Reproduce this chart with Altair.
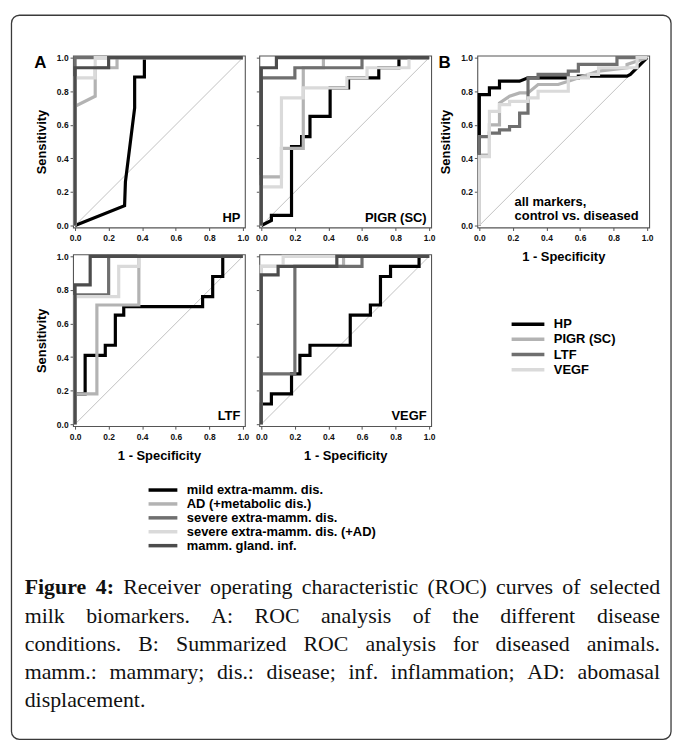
import altair as alt
import pandas as pd

# ---------------- data ----------------
DISEASES = ["mild extra-mamm. dis.", "AD (+metabolic dis.)", "severe extra-mamm. dis.",
            "severe extra-mamm. dis. (+AD)", "mamm. gland. inf."]
DISEASE_COLORS = ["#000000", "#b3b3b3", "#6f6f6f", "#dadada", "#4c4c4c"]
MARKERS = ["HP", "PIGR (SC)", "LTF", "VEGF"]
MARKER_COLORS = ["#000000", "#b3b3b3", "#6f6f6f", "#dadada"]
TICKS = [0.0, 0.2, 0.4, 0.6, 0.8, 1.0]
DIAG = [0.0, 1.0]

# (1 - specificity, sensitivity) points for each curve
HP_MILD = [(0, 0), (0.295, 0.118), (0.30, 0.26), (0.355, 0.70), (0.355, 0.885), (0.413, 0.885), (0.413, 1), (1, 1)]
HP_AD = [(0, 0), (0, 0.71), (0.12, 0.77), (0.12, 0.94), (0.25, 0.94), (0.25, 1), (1, 1)]
HP_SEVERE = [(0, 0), (0, 1), (1, 1)]
HP_SEVERE_AD = [(0, 0), (0, 0.88), (0.12, 0.88), (0.12, 1), (1, 1)]
HP_GLAND = [(0, 0), (0, 0.94), (0.2, 0.94), (0.2, 1), (1, 1)]

PIGR_MILD = [(0, 0), (0.06, 0.03), (0.06, 0.06), (0.18, 0.06), (0.18, 0.47), (0.24, 0.47), (0.24, 0.53),
             (0.29, 0.53), (0.29, 0.65), (0.41, 0.65), (0.41, 0.82), (0.52, 0.82), (0.52, 0.88), (0.70, 0.88),
             (0.70, 0.94), (0.82, 0.94), (0.82, 1), (1, 1)]
PIGR_AD = [(0, 0), (0, 0.29), (0.12, 0.29), (0.12, 0.46), (0.25, 0.46), (0.25, 0.94), (0.37, 0.94), (0.37, 1), (1, 1)]
PIGR_SEVERE = [(0, 0), (0, 0.88), (0.2, 0.88), (0.2, 0.94), (0.6, 0.94), (0.6, 1), (1, 1)]
PIGR_SEVERE_AD = [(0, 0), (0, 0.23), (0.12, 0.23), (0.12, 0.76), (0.25, 0.76), (0.25, 0.82), (0.51, 0.82),
                  (0.51, 0.88), (0.63, 0.88), (0.63, 0.94), (0.88, 0.94), (0.88, 1), (1, 1)]
PIGR_GLAND = [(0, 0), (0, 0.94), (0.09, 0.94), (0.09, 1), (1, 1)]

LTF_MILD = [(0, 0), (0, 0.18), (0.06, 0.18), (0.06, 0.41), (0.18, 0.41), (0.18, 0.47), (0.24, 0.47), (0.24, 0.65),
            (0.29, 0.65), (0.29, 0.70), (0.76, 0.70), (0.76, 0.76), (0.82, 0.76), (0.82, 0.88), (0.88, 0.88),
            (0.88, 1), (1, 1)]
LTF_AD = [(0, 0), (0, 0.18), (0.13, 0.18), (0.13, 0.71), (0.38, 0.71), (0.38, 1), (1, 1)]
LTF_SEVERE = [(0, 0), (0, 0.77), (0.2, 0.77), (0.2, 1), (1, 1)]
LTF_SEVERE_AD = [(0, 0), (0, 0.76), (0.26, 0.76), (0.26, 0.94), (0.38, 0.94), (0.38, 1), (1, 1)]
LTF_GLAND = [(0, 0), (0, 0.83), (0.09, 0.83), (0.09, 1), (1, 1)]

VEGF_MILD = [(0, 0), (0, 0.12), (0.06, 0.12), (0.06, 0.18), (0.18, 0.18), (0.18, 0.30), (0.23, 0.30), (0.23, 0.41),
             (0.29, 0.41), (0.29, 0.47), (0.53, 0.47), (0.53, 0.65), (0.65, 0.65), (0.65, 0.71), (0.71, 0.71),
             (0.71, 0.88), (0.77, 0.88), (0.77, 0.94), (0.94, 0.94), (0.94, 1), (1, 1)]
VEGF_AD = [(0, 0), (0, 0.94), (0.49, 0.94), (0.49, 1), (1, 1)]
VEGF_SEVERE = [(0, 0), (0, 0.30), (0.2, 0.30), (0.2, 0.94), (0.6, 0.94), (0.6, 1), (1, 1)]
VEGF_SEVERE_AD = [(0, 0), (0, 0.94), (0.13, 0.94), (0.13, 1), (1, 1)]
VEGF_GLAND = [(0, 0), (0, 0.89), (0.1, 0.89), (0.1, 0.94), (0.45, 0.94), (0.45, 1), (1, 1)]

B_HP = [(0, 0), (0, 0.78), (0.06, 0.78), (0.06, 0.82), (0.12, 0.82), (0.12, 0.86), (0.24, 0.86), (0.29, 0.88),
        (0.59, 0.88), (0.59, 0.89), (0.88, 0.89), (0.9, 0.9), (1, 1)]
B_PIGR = [(0, 0), (0, 0.42), (0.06, 0.42), (0.06, 0.6), (0.12, 0.6), (0.12, 0.73), (0.18, 0.77), (0.24, 0.79),
          (0.29, 0.79), (0.35, 0.84), (0.47, 0.84), (0.53, 0.86), (0.65, 0.9), (0.71, 0.92), (0.88, 0.94),
          (0.88, 0.96), (1, 1)]
B_LTF = [(0, 0), (0, 0.53), (0.06, 0.53), (0.06, 0.55), (0.12, 0.55), (0.12, 0.57), (0.18, 0.57), (0.18, 0.59),
         (0.24, 0.59), (0.24, 0.67), (0.29, 0.67), (0.29, 0.88), (0.35, 0.88), (0.35, 0.9), (0.53, 0.9),
         (0.53, 0.92), (0.59, 0.92), (0.59, 0.96), (0.82, 0.96), (0.82, 1), (1, 1)]
B_VEGF = [(0, 0), (0, 0.41), (0.06, 0.41), (0.06, 0.68), (0.12, 0.68), (0.12, 0.72), (0.18, 0.72), (0.18, 0.74),
          (0.29, 0.74), (0.29, 0.76), (0.35, 0.76), (0.35, 0.8), (0.53, 0.8), (0.53, 0.88), (0.65, 0.88),
          (0.65, 0.9), (0.71, 0.9), (0.71, 0.94), (0.94, 0.94), (0.94, 1), (1, 1)]

CAPTION_BOLD = ["Figure", "4:"]
CAPTION_LINES = [
    "Figure 4: Receiver operating characteristic (ROC) curves of selected",
    "milk biomarkers. A: ROC analysis of the different disease",
    "conditions. B: Summarized ROC analysis for diseased animals.",
    "mamm.: mammary; dis.: disease; inf. inflammation; AD: abomasal",
    "displacement.",
]

# ---------------- styling ----------------
FONT = "Liberation Sans"
W = 173
H = 173
PAD = 0.012
DOM = [-PAD, 1 + PAD]


def pts_df(pts, name):
    return pd.DataFrame({"fpr": [p[0] for p in pts], "tpr": [p[1] for p in pts],
                         "i": list(range(len(pts))), "series": name})


def panel(names, curves, domain, colors, legend, x_title, y_title, y_labels, label, extras=()):
    x_enc = alt.X("fpr:Q", scale=alt.Scale(domain=DOM, nice=False, zero=False),
                  axis=alt.Axis(values=TICKS, format=".1f", title=x_title, labelFlush=False,
                                labelPadding=3, titlePadding=9))
    y_enc = alt.Y("tpr:Q", scale=alt.Scale(domain=DOM, nice=False, zero=False),
                  axis=alt.Axis(values=TICKS, format=".1f", title=y_title, labels=y_labels,
                                labelFlush=False, labelPadding=2, titlePadding=8))
    layers = [alt.Chart(pd.DataFrame({"fpr": DIAG, "tpr": DIAG}))
              .mark_line(color="#c2c2c2", strokeWidth=1).encode(x=x_enc, y=y_enc)]
    cscale = alt.Scale(domain=domain, range=colors)
    for nm, pts in zip(names, curves):
        layers.append(alt.Chart(pts_df(pts, nm))
                      .mark_line(strokeWidth=3.2, strokeJoin="miter", strokeCap="butt")
                      .encode(x=x_enc, y=y_enc, order="i:Q",
                              color=alt.Color("series:N", scale=cscale, legend=legend)))
    if label:
        layers.append(alt.Chart(pd.DataFrame({"fpr": [0.985], "tpr": [0.022], "t": [label]}))
                      .mark_text(align="right", baseline="alphabetic", font=FONT, fontWeight="bold",
                                 fontSize=13, color="black")
                      .encode(x=x_enc, y=y_enc, text="t:N"))
    for ex in extras:
        layers.append(ex(x_enc, y_enc))
    return alt.layer(*layers).properties(width=W, height=H)


def letter(ch):
    def f(x_enc, y_enc):
        return (alt.Chart(pd.DataFrame({"t": [ch]}))
                .mark_text(align="left", baseline="alphabetic", font=FONT, fontWeight="bold",
                           fontSize=17, color="black")
                .encode(x=alt.value(-39), y=alt.value(12.3), text="t:N"))
    return f


def b_note(x_enc, y_enc):
    return (alt.Chart(pd.DataFrame({"fpr": [0.21, 0.21], "tpr": [0.115, 0.034],
                                    "t": ["all markers,", "control vs. diseased"]}))
            .mark_text(align="left", baseline="alphabetic", font=FONT, fontWeight="bold",
                       fontSize=13, color="black")
            .encode(x=x_enc, y=y_enc, text="t:N"))


disease_legend = alt.Legend(title=None, orient="none", legendX=76, legendY=230.3, padding=0,
                            symbolType="M-2.9,0H2.9", symbolSize=100, symbolStrokeWidth=3.5,
                            symbolOffset=7.5, labelOffset=17, rowPadding=-0.3, labelLimit=300,
                            labelFont=FONT, labelFontWeight="bold", labelFontSize=13, labelColor="black")
marker_legend = alt.Legend(title=None, orient="none", legendX=34.5, legendY=263.3, padding=0,
                           symbolType="M-3.3,0H3.3", symbolSize=100, symbolStrokeWidth=3.5,
                           symbolOffset=9.5, labelOffset=19, rowPadding=1.3, labelLimit=300,
                           labelFont=FONT, labelFontWeight="bold", labelFontSize=13, labelColor="black")

hp = panel(DISEASES, [HP_MILD, HP_AD, HP_SEVERE, HP_SEVERE_AD, HP_GLAND], DISEASES, DISEASE_COLORS,
           None, None, "Sensitivity", True, "HP", extras=[letter("A")])
pigr = panel(DISEASES, [PIGR_MILD, PIGR_AD, PIGR_SEVERE, PIGR_SEVERE_AD, PIGR_GLAND], DISEASES, DISEASE_COLORS,
             None, None, None, False, "PIGR (SC)")
ltf = panel(DISEASES, [LTF_MILD, LTF_AD, LTF_SEVERE, LTF_SEVERE_AD, LTF_GLAND], DISEASES, DISEASE_COLORS,
            disease_legend, "1 - Specificity", "Sensitivity", True, "LTF")
vegf = panel(DISEASES, [VEGF_MILD, VEGF_AD, VEGF_SEVERE, VEGF_SEVERE_AD, VEGF_GLAND], DISEASES, DISEASE_COLORS,
             None, "1 - Specificity", None, False, "VEGF")
bpan = panel(MARKERS, [B_HP, B_PIGR, B_LTF, B_VEGF], MARKERS, MARKER_COLORS,
             marker_legend, "1 - Specificity", "Sensitivity", True, None, extras=[letter("B"), b_note])

# ---------------- caption (justified) ----------------
TR = dict(zip(" abcdefghijklmnopqrstuvwxyz",
              [250, 444, 500, 444, 500, 444, 333, 500, 500, 278, 278, 500, 278, 778, 500, 500, 500, 500,
               333, 389, 278, 500, 500, 722, 500, 500, 444]))
TR.update(dict(zip("ABCDEFGHIJKLMNOPQRSTUVWXYZ",
                   [722, 667, 667, 722, 611, 556, 722, 722, 333, 389, 722, 611, 889, 722, 722, 556, 722, 667,
                    556, 611, 722, 722, 944, 722, 722, 611])))
TR.update({".": 250, ",": 250, ":": 278, ";": 278, "(": 333, ")": 333, "-": 333, "+": 564})
TR.update({d: 500 for d in "0123456789"})
TB = {"F": 611, "i": 278, "g": 500, "u": 556, "r": 444, "e": 444, "4": 500, ":": 333, " ": 250}

CAP_SIZE = 22
LEFT, RIGHT = -48.7, 591.0
BASELINES = [39.3, 67.8, 96.3, 124.3, 152.8]


def wwidth(word, bold):
    tab = TB if bold else TR
    return sum(tab.get(c, 500) for c in word) / 1000.0 * CAP_SIZE


rows = []
for li, line in enumerate(CAPTION_LINES):
    words = line.split(" ")
    flags = [(li == 0 and k < len(CAPTION_BOLD) and w == CAPTION_BOLD[k]) for k, w in enumerate(words)]
    widths = [wwidth(w, b) for w, b in zip(words, flags)]
    if li < len(CAPTION_LINES) - 1 and len(words) > 1:
        gap = (RIGHT - LEFT - sum(widths)) / (len(words) - 1)
    else:
        gap = 0.25 * CAP_SIZE
    x = LEFT
    for w, b, wd in zip(words, flags, widths):
        rows.append({"word": w, "px": x, "py": BASELINES[li], "bold": b})
        x += wd + gap
cap = pd.DataFrame(rows)


def cap_layer(df, weight):
    return (alt.Chart(df).mark_text(align="left", baseline="alphabetic", font="Liberation Serif",
                                    fontSize=CAP_SIZE, fontWeight=weight, color="#111111")
            .encode(x=alt.X("px:Q", scale=None, axis=None), y=alt.Y("py:Q", scale=None, axis=None),
                    text="word:N"))


border = (alt.Chart(pd.DataFrame({"k": [0]}))
          .mark_rect(cornerRadius=8, fillOpacity=0, stroke="#3a3a3a", strokeWidth=1.3)
          .encode(x=alt.value(-62), x2=alt.value(602), y=alt.value(-543.7), y2=alt.value(185.3)))

caption = alt.layer(border, cap_layer(cap[~cap["bold"]], "normal"), cap_layer(cap[cap["bold"]], "bold")
                    ).properties(width=W, height=150, view=alt.ViewBackground(stroke="transparent"))


def blank(w, h):
    return (alt.Chart(pd.DataFrame({"k": [0]})).mark_point(opacity=0)
            .encode(x=alt.value(0), y=alt.value(0))
            .properties(width=w, height=h, view=alt.ViewBackground(stroke="transparent")))


# grid: row1 HP | PIGR | B ; row2 LTF | VEGF | spacer ; row3 caption | spacer
chart = alt.concat(hp, pigr, bpan, ltf, vegf, blank(1, 276), caption, blank(204.5, 1),
                   columns=3, spacing={"row": 27, "column": 14.5}, bounds="flush")
chart = chart.resolve_scale(color="independent").resolve_legend(color="independent")

chart = (chart.properties(padding={"left": 1.5, "top": 3.5, "right": 2, "bottom": 2}, background="white")
         .configure_view(stroke="#555555", strokeWidth=1.1)
         .configure_axis(labelFont=FONT, labelFontWeight="bold", labelFontSize=8.5, labelColor="#111111",
                         tickColor="#555555", tickSize=3, tickWidth=1, domain=False, grid=False,
                         titleFont=FONT, titleFontWeight="bold", titleFontSize=13, titleColor="black"))

chart.save("out.html", embed_options={"renderer": "svg", "actions": False})
